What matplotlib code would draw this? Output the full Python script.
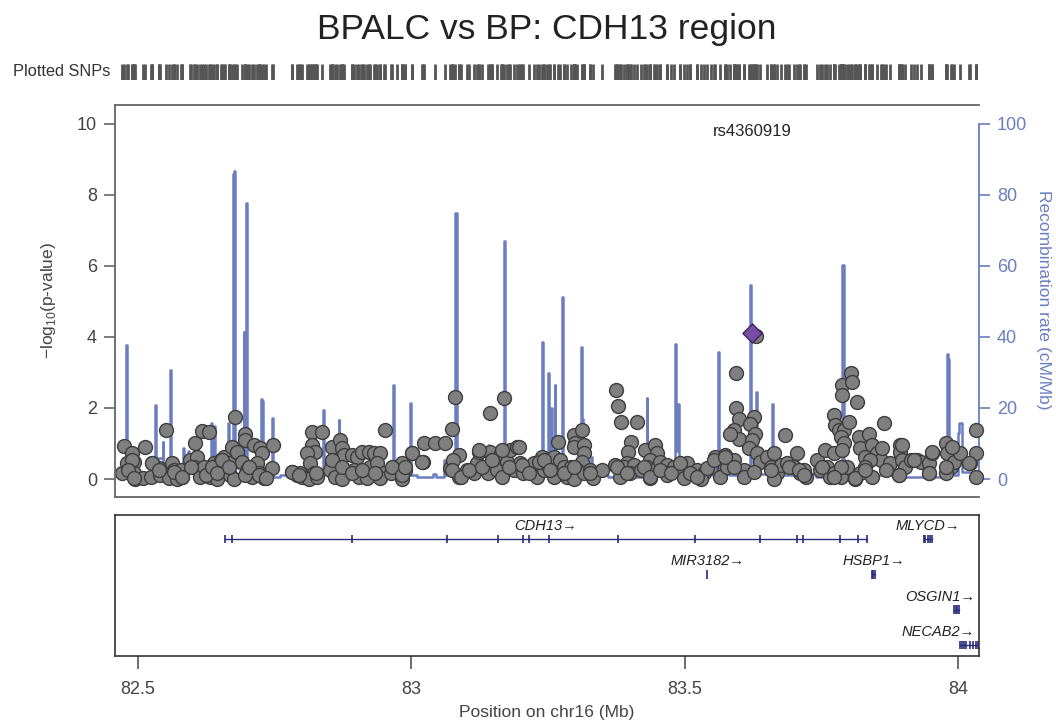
import matplotlib
matplotlib.use('Agg')
import matplotlib.pyplot as plt

plt.rcParams['font.family'] = ['Liberation Sans', 'DejaVu Sans']
plt.rcParams['mathtext.fontset'] = 'custom'
plt.rcParams['mathtext.rm'] = 'Liberation Sans'

# SNP positions (Mb) and -log10(p)
snp_pos = [
    82.471, 82.475, 82.489, 82.480, 82.492, 82.495, 82.492, 82.513, 82.510, 82.526,
    82.523, 82.538, 82.541, 82.552, 82.562, 82.565, 82.556, 82.571, 82.581, 82.578,
    82.596, 82.605, 82.608, 82.602, 82.614, 82.620, 82.617, 82.629, 82.632, 82.645,
    82.639, 82.651, 82.657, 82.660, 82.672, 82.666, 82.669, 82.675, 82.678, 82.695,
    82.695, 82.681, 82.690, 82.699, 82.709, 82.696, 82.712, 82.724, 82.727, 82.718,
    82.730, 82.721, 82.747, 82.745, 82.782, 82.791, 82.797, 82.800, 82.818, 82.837,
    82.818, 82.824, 82.809, 82.815, 82.821, 82.812, 82.827, 82.855, 82.855, 82.870,
    82.873, 82.876, 82.864, 82.852, 82.861, 82.873, 82.891, 82.901, 82.910, 82.922,
    82.931, 82.943, 82.895, 82.904, 82.913, 82.925, 82.937, 82.949, 82.919, 82.943,
    82.951, 82.962, 82.974, 82.983, 82.989, 82.983, 83.001, 83.021, 83.023, 83.044,
    83.062, 83.074, 83.079, 83.087, 83.071, 83.087, 83.077, 83.102, 83.114, 83.120,
    83.123, 83.144, 83.169, 83.144, 83.148, 83.141, 83.157, 83.163, 83.166, 83.175,
    83.181, 83.187, 83.193, 83.199, 83.205, 83.224, 83.230, 83.239, 83.242, 83.251,
    83.248, 83.260, 83.260, 83.269, 83.272, 83.279, 83.297, 83.300, 83.312, 83.297,
    83.315, 83.315, 83.312, 83.303, 83.291, 83.285, 83.297, 83.315, 83.327, 83.333,
    83.349, 83.375, 83.377, 83.384, 83.413, 83.402, 83.397, 83.394, 83.382, 83.373,
    83.388, 83.407, 83.400, 83.428, 83.446, 83.449, 83.437, 83.431, 83.419, 83.443,
    83.437, 83.455, 83.468, 83.480, 83.468, 83.492, 83.504, 83.510, 83.498, 83.522,
    83.535, 83.529, 83.547, 83.556, 83.574, 83.590, 83.565, 83.577, 83.593, 83.593,
    83.599, 83.590, 83.599, 83.583, 83.608, 83.608, 83.631, 83.626, 83.620, 83.629,
    83.623, 83.617, 83.632, 83.638, 83.650, 83.663, 83.657, 83.669, 83.675, 83.687,
    83.699, 83.705, 83.711, 83.718, 83.721, 83.663, 83.684, 83.742, 83.748, 83.760,
    83.757, 83.766, 83.772, 83.772, 83.785, 83.797, 83.785, 83.772, 83.775, 83.782,
    83.791, 83.785, 83.791, 83.788, 83.788, 83.788, 83.803, 83.806, 83.815, 83.800,
    83.818, 83.821, 83.830, 83.836, 83.842, 83.852, 83.858, 83.839, 83.830, 83.821,
    83.812, 83.842, 83.864, 83.861, 83.876, 83.894, 83.894, 83.897, 83.891, 83.903,
    83.913, 83.925, 83.931, 83.946, 83.952, 83.946, 83.977, 83.980, 83.986, 83.992,
    84.004, 83.977, 84.022, 84.033, 84.033, 84.033,
    82.490, 82.481, 82.493, 82.526, 82.539, 82.566, 82.581, 82.597, 82.624, 82.636,
    82.645, 82.654, 82.667, 82.703, 82.721, 82.734, 82.782, 82.795, 82.825, 82.855,
    82.873, 82.891, 82.910, 82.934, 82.965, 82.983, 82.989, 83.002, 83.019, 83.074,
    83.090, 83.105, 83.123, 83.129, 83.147, 83.166, 83.178, 83.196, 83.202, 83.215,
    83.233, 83.242, 83.254, 83.279, 83.297, 83.327, 83.376, 83.394, 83.425, 83.437,
    83.455, 83.474, 83.492, 83.510, 83.522, 83.541, 83.553, 83.574, 83.590, 83.626,
    83.657, 83.690, 83.708, 83.718, 83.751, 83.772, 83.812, 83.830, 83.867, 83.891,
    83.897, 83.919, 83.946, 83.952, 83.977, 83.989, 84.019,
]
snp_logp = [
    0.16, 0.93, 0.72, 0.44, 0.49, 0.00, 0.16, 0.91, 0.02, 0.44,
    0.07, 0.30, 0.11, 1.38, 0.44, 0.25, 0.02, 0.00, 0.07, 0.25,
    0.53, 1.00, 0.63, 0.35, 0.07, 0.35, 1.35, 1.33, 0.07, 0.00,
    0.44, 0.53, 0.63, 0.25, 0.91, 0.44, 0.11, 0.00, 1.75, 1.28,
    1.10, 0.77, 0.49, 0.25, 0.07, 0.11, 0.95, 0.86, 0.72, 0.44,
    0.02, 0.16, 0.96, 0.30, 0.20, 0.11, 0.16, 0.07, 1.33, 1.33,
    0.95, 0.77, 0.72, 0.44, 0.16, 0.00, 0.07, 0.91, 0.49, 1.10,
    0.86, 0.67, 0.35, 0.25, 0.07, 0.00, 0.67, 0.63, 0.77, 0.77,
    0.72, 0.72, 0.25, 0.07, 0.25, 0.35, 0.44, 0.16, 0.02, 0.02,
    1.38, 0.16, 0.35, 0.44, 0.25, 0.00, 0.72, 0.49, 1.00, 1.00,
    1.00, 1.42, 2.31, 0.67, 0.30, 0.07, 0.53, 0.25, 0.16, 0.44,
    0.77, 1.85, 2.27, 0.77, 0.53, 0.16, 0.25, 0.72, 0.07, 0.49,
    0.81, 0.25, 0.91, 0.44, 0.16, 0.44, 0.07, 0.63, 0.25, 0.35,
    0.53, 0.63, 0.07, 1.05, 0.53, 0.35, 1.24, 1.00, 1.38, 0.91,
    0.95, 0.72, 0.49, 0.25, 0.35, 0.07, 0.00, 0.16, 0.25, 0.02,
    0.25, 2.50, 2.05, 1.61, 1.61, 1.05, 0.77, 0.44, 0.07, 0.39,
    0.35, 0.39, 0.16, 0.81, 0.95, 0.72, 0.53, 0.35, 0.25, 0.25,
    0.02, 0.49, 0.39, 0.35, 0.11, 0.35, 0.44, 0.16, 0.02, 0.25,
    0.16, 0.00, 0.35, 0.63, 0.67, 0.53, 0.07, 0.35, 2.97, 1.99,
    1.70, 1.38, 1.14, 1.28, 0.25, 0.07, 4.02, 1.75, 1.56, 1.28,
    1.10, 0.86, 0.72, 0.49, 0.63, 0.72, 0.35, 0.16, 0.39, 0.44,
    0.35, 0.72, 0.16, 0.25, 0.07, 0.00, 1.24, 0.53, 0.25, 0.35,
    0.81, 0.07, 0.72, 0.16, 0.07, 0.35, 0.35, 1.80, 1.52, 1.38,
    1.38, 1.19, 1.00, 0.81, 2.64, 2.36, 2.97, 2.74, 2.17, 1.61,
    1.19, 0.86, 0.63, 1.28, 0.95, 0.72, 0.53, 0.53, 0.35, 0.16,
    0.00, 0.07, 1.58, 0.86, 0.44, 0.95, 0.77, 0.53, 0.11, 0.35,
    0.53, 0.53, 0.49, 0.44, 0.72, 0.16, 1.00, 0.72, 0.35, 0.49,
    0.72, 0.16, 0.44, 1.38, 0.72, 0.07,
    0.53, 0.25, 0.02, 0.44, 0.25, 0.21, 0.07, 0.35, 0.11, 0.35,
    0.16, 0.53, 0.35, 0.35, 0.11, 0.02, 0.21, 0.11, 0.16, 0.53,
    0.35, 0.16, 0.25, 0.16, 0.35, 0.11, 0.35, 0.74, 0.49, 0.25,
    0.07, 0.25, 0.82, 0.35, 0.53, 0.82, 0.35, 0.91, 0.39, 0.16,
    0.49, 0.53, 0.25, 0.16, 0.35, 0.16, 0.35, 0.16, 0.35, 0.07,
    0.25, 0.16, 0.44, 0.16, 0.07, 0.30, 0.53, 0.63, 0.35, 0.21,
    0.25, 0.35, 0.25, 0.11, 0.35, 0.07, 0.02, 0.25, 0.25, 0.11,
    0.96, 0.53, 0.16, 0.77, 0.35, 0.91, 0.44,
]

lead_name = 'rs4360919'
lead_pos = 83.623
lead_logp = 4.10

# recombination rate (cM/Mb), step function
recomb_pos = [
    82.458, 82.479, 82.4805, 82.500, 82.532, 82.5335, 82.545, 82.5465, 82.559, 82.5605,
    82.570, 82.583, 82.585, 82.592, 82.594, 82.610, 82.634, 82.6355, 82.639, 82.6405,
    82.660, 82.665, 82.6665, 82.674, 82.676, 82.6775, 82.690, 82.693, 82.6945, 82.697,
    82.6985, 82.715, 82.725, 82.727, 82.7285, 82.746, 82.7475, 82.760, 82.800, 82.838,
    82.839, 82.8405, 82.860, 82.867, 82.8685, 82.900, 82.967, 82.9685, 82.985, 82.998,
    82.9995, 83.010, 83.040, 83.045, 83.060, 83.0615, 83.079, 83.0825, 83.100, 83.140,
    83.1415, 83.169, 83.1705, 83.200, 83.238, 83.240, 83.2415, 83.250, 83.2515, 83.256,
    83.2575, 83.262, 83.2635, 83.275, 83.2765, 83.300, 83.311, 83.3125, 83.314, 83.329,
    83.3305, 83.360, 83.430, 83.4315, 83.482, 83.484, 83.488, 83.4895, 83.520, 83.561,
    83.5625, 83.580, 83.620, 83.6215, 83.630, 83.6315, 83.659, 83.6605, 83.700, 83.740,
    83.788, 83.7905, 83.850, 83.900, 83.979, 83.981, 83.9825, 83.990, 84.000, 84.002,
    84.006, 84.0075, 84.038,
]
recomb_rate = [
    1.5, 37.7, 2.5, 1.5, 20.8, 6.0, 10.5, 3.0, 30.6, 4.0,
    2.0, 8.7, 3.0, 8.0, 2.5, 1.5, 15.7, 4.0, 15.0, 3.0,
    2.0, 15.7, 3.0, 85.7, 86.6, 3.0, 2.0, 41.4, 6.0, 77.7,
    3.0, 2.0, 22.5, 22.0, 3.0, 17.1, 0.5, 1.0, 2.0, 18.9,
    19.4, 2.0, 3.0, 16.6, 2.5, 1.5, 26.4, 2.0, 1.0, 21.3,
    1.0, 0.5, 1.5, 0.5, 5.3, 1.0, 74.7, 2.0, 1.5, 9.6,
    2.0, 67.0, 2.0, 1.5, 38.6, 37.5, 3.0, 29.8, 3.0, 20.0,
    4.0, 26.4, 3.0, 51.3, 2.0, 1.5, 37.2, 17.0, 2.0, 6.3,
    1.0, 0.5, 22.9, 1.0, 38.1, 8.0, 21.0, 2.0, 1.0, 35.6,
    1.5, 1.0, 54.7, 1.5, 24.5, 1.5, 21.1, 1.0, 1.5, 0.5,
    60.2, 2.0, 1.0, 0.5, 35.3, 33.8, 2.0, 1.0, 13.0, 15.7,
    15.0, 2.0, 2.0,
]

# genes in the region
gene_names = ['CDH13', 'MLYCD', 'MIR3182', 'HSBP1', 'OSGIN1', 'NECAB2']
gene_start = [82.659, 83.937, 83.541, 83.842, 83.992, 84.003]
gene_end = [83.833, 83.952, 83.541, 83.848, 84.001, 84.036]
gene_row = [1, 1, 2, 2, 3, 4]
gene_exons = [
    [82.659, 82.672, 82.892, 83.066, 83.159, 83.205, 83.215, 83.251,
     83.377, 83.519, 83.638, 83.706, 83.716, 83.784, 83.817, 83.833],
    [83.937, 83.940, 83.944, 83.948, 83.952],
    [83.541],
    [83.842, 83.845, 83.848],
    [83.992, 83.995, 83.998, 84.001],
    [84.003, 84.007, 84.011, 84.015, 84.021, 84.027, 84.033, 84.036],
]

xticks = [82.5, 83, 83.5, 84]
xtick_labels = ['82.5', '83', '83.5', '84']

recomb_color = '#6a7ec0'
gene_color = '#2a2a7c'
xlim = (82.458, 84.038)

fig = plt.figure(figsize=(10.56, 7.24), dpi=100)
ax = fig.add_axes([0.1089, 0.3135, 0.8182, 0.5414])
ax2 = ax.twinx()
axr = fig.add_axes([0.1089, 0.8895, 0.8182, 0.0221])
axg = fig.add_axes([0.1089, 0.0939, 0.8182, 0.1948])

# recombination line behind the points
ax2.plot(recomb_pos, recomb_rate, drawstyle='steps-post', color=recomb_color, lw=1.8)
ax2.set_ylim(-5.06, 105.2)
ax.set_zorder(ax2.get_zorder() + 1)
ax.patch.set_visible(False)

ax.scatter(snp_pos, snp_logp, s=100, c='#7f7f7f', edgecolors='#3d3d3d',
           linewidths=1, clip_on=False, zorder=2)
ax.scatter([lead_pos], [lead_logp], marker='D', s=95, c='#7b4ca6',
           edgecolors='#3b2760', linewidths=1, clip_on=False, zorder=3)
ax.text(lead_pos, 9.78, lead_name, ha='center', va='center', fontsize=12, color='#222222')

ax.set_xlim(xlim)
ax.set_ylim(-0.506, 10.52)
ax.set_xticks([])
ax.set_yticks([0, 2, 4, 6, 8, 10])
ax.tick_params(axis='y', length=8, width=1.2, color='#666666', labelcolor='#444444',
               labelsize=13, pad=5)
ax.spines['right'].set_visible(False)
for s in ['left', 'top', 'bottom']:
    ax.spines[s].set_color('#666666')
    ax.spines[s].set_linewidth(1.3)

for s in ['left', 'top', 'bottom']:
    ax2.spines[s].set_visible(False)
ax2.spines['right'].set_color(recomb_color)
ax2.spines['right'].set_linewidth(1.3)
ax2.spines['right'].set_bounds(0, 100)
ax2.set_yticks([0, 20, 40, 60, 80, 100])
ax2.tick_params(axis='y', length=8, width=1.2, color=recomb_color, labelcolor=recomb_color,
                labelsize=13, pad=5)

fig.text(48 / 1056, 1 - 300 / 724, r'$-$log$_{10}$(p-value)', rotation=90,
         ha='center', va='center', fontsize=12.5, color='#444444')
fig.text(1044 / 1056, 1 - 300 / 724, 'Recombination rate (cM/Mb)', rotation=270,
         ha='center', va='center', fontsize=12.5, color=recomb_color)

# plotted SNPs rug
axr.vlines(snp_pos + [lead_pos], 0, 1, color='#555555', lw=2)
axr.set_xlim(xlim)
axr.set_ylim(0, 1)
axr.axis('off')
fig.text(110 / 1056, 1 - 72 / 724, 'Plotted SNPs', ha='right', va='center',
         fontsize=11.8, color='#333333')

fig.text(547 / 1056, 1 - 30 / 724, 'BPALC vs BP: CDH13 region', ha='center', va='center',
         fontsize=25.5, color='#222222')

# gene panel
labels = []
for name, start, end, row, exons in zip(gene_names, gene_start, gene_end, gene_row, gene_exons):
    axg.plot([start, end], [row, row], color=gene_color, lw=1)
    axg.vlines(exons, row - 0.12, row + 0.12, color=gene_color, lw=1.2)
    t = axg.text((start + end) / 2, row - 0.37, name + '\u2192', ha='center', va='center',
                 fontsize=10.5, style='italic', color='#222222')
    labels.append(t)

axg.set_xlim(xlim)
axg.set_ylim(4.31, 0.32)
axg.set_yticks([])
axg.set_xticks(xticks)
axg.set_xticklabels(xtick_labels)
axg.tick_params(axis='x', length=9, width=1.2, color='#555555', labelcolor='#444444',
                labelsize=13, pad=9)
for s in axg.spines.values():
    s.set_color('#333333')
    s.set_linewidth(1.2)

fig.text(547 / 1056, 1 - 713 / 724, 'Position on chr16 (Mb)', ha='center', va='center',
         fontsize=12.5, color='#444444')

# keep gene labels inside the panel
fig.canvas.draw()
renderer = fig.canvas.get_renderer()
right_px = axg.get_window_extent(renderer).x1 - 4
for t in labels:
    bb = t.get_window_extent(renderer)
    if bb.x1 > right_px:
        xd, yd = axg.transData.transform(t.get_position())
        t.set_position(axg.transData.inverted().transform((xd - (bb.x1 - right_px), yd)))

fig.savefig('out.png', dpi=100)
